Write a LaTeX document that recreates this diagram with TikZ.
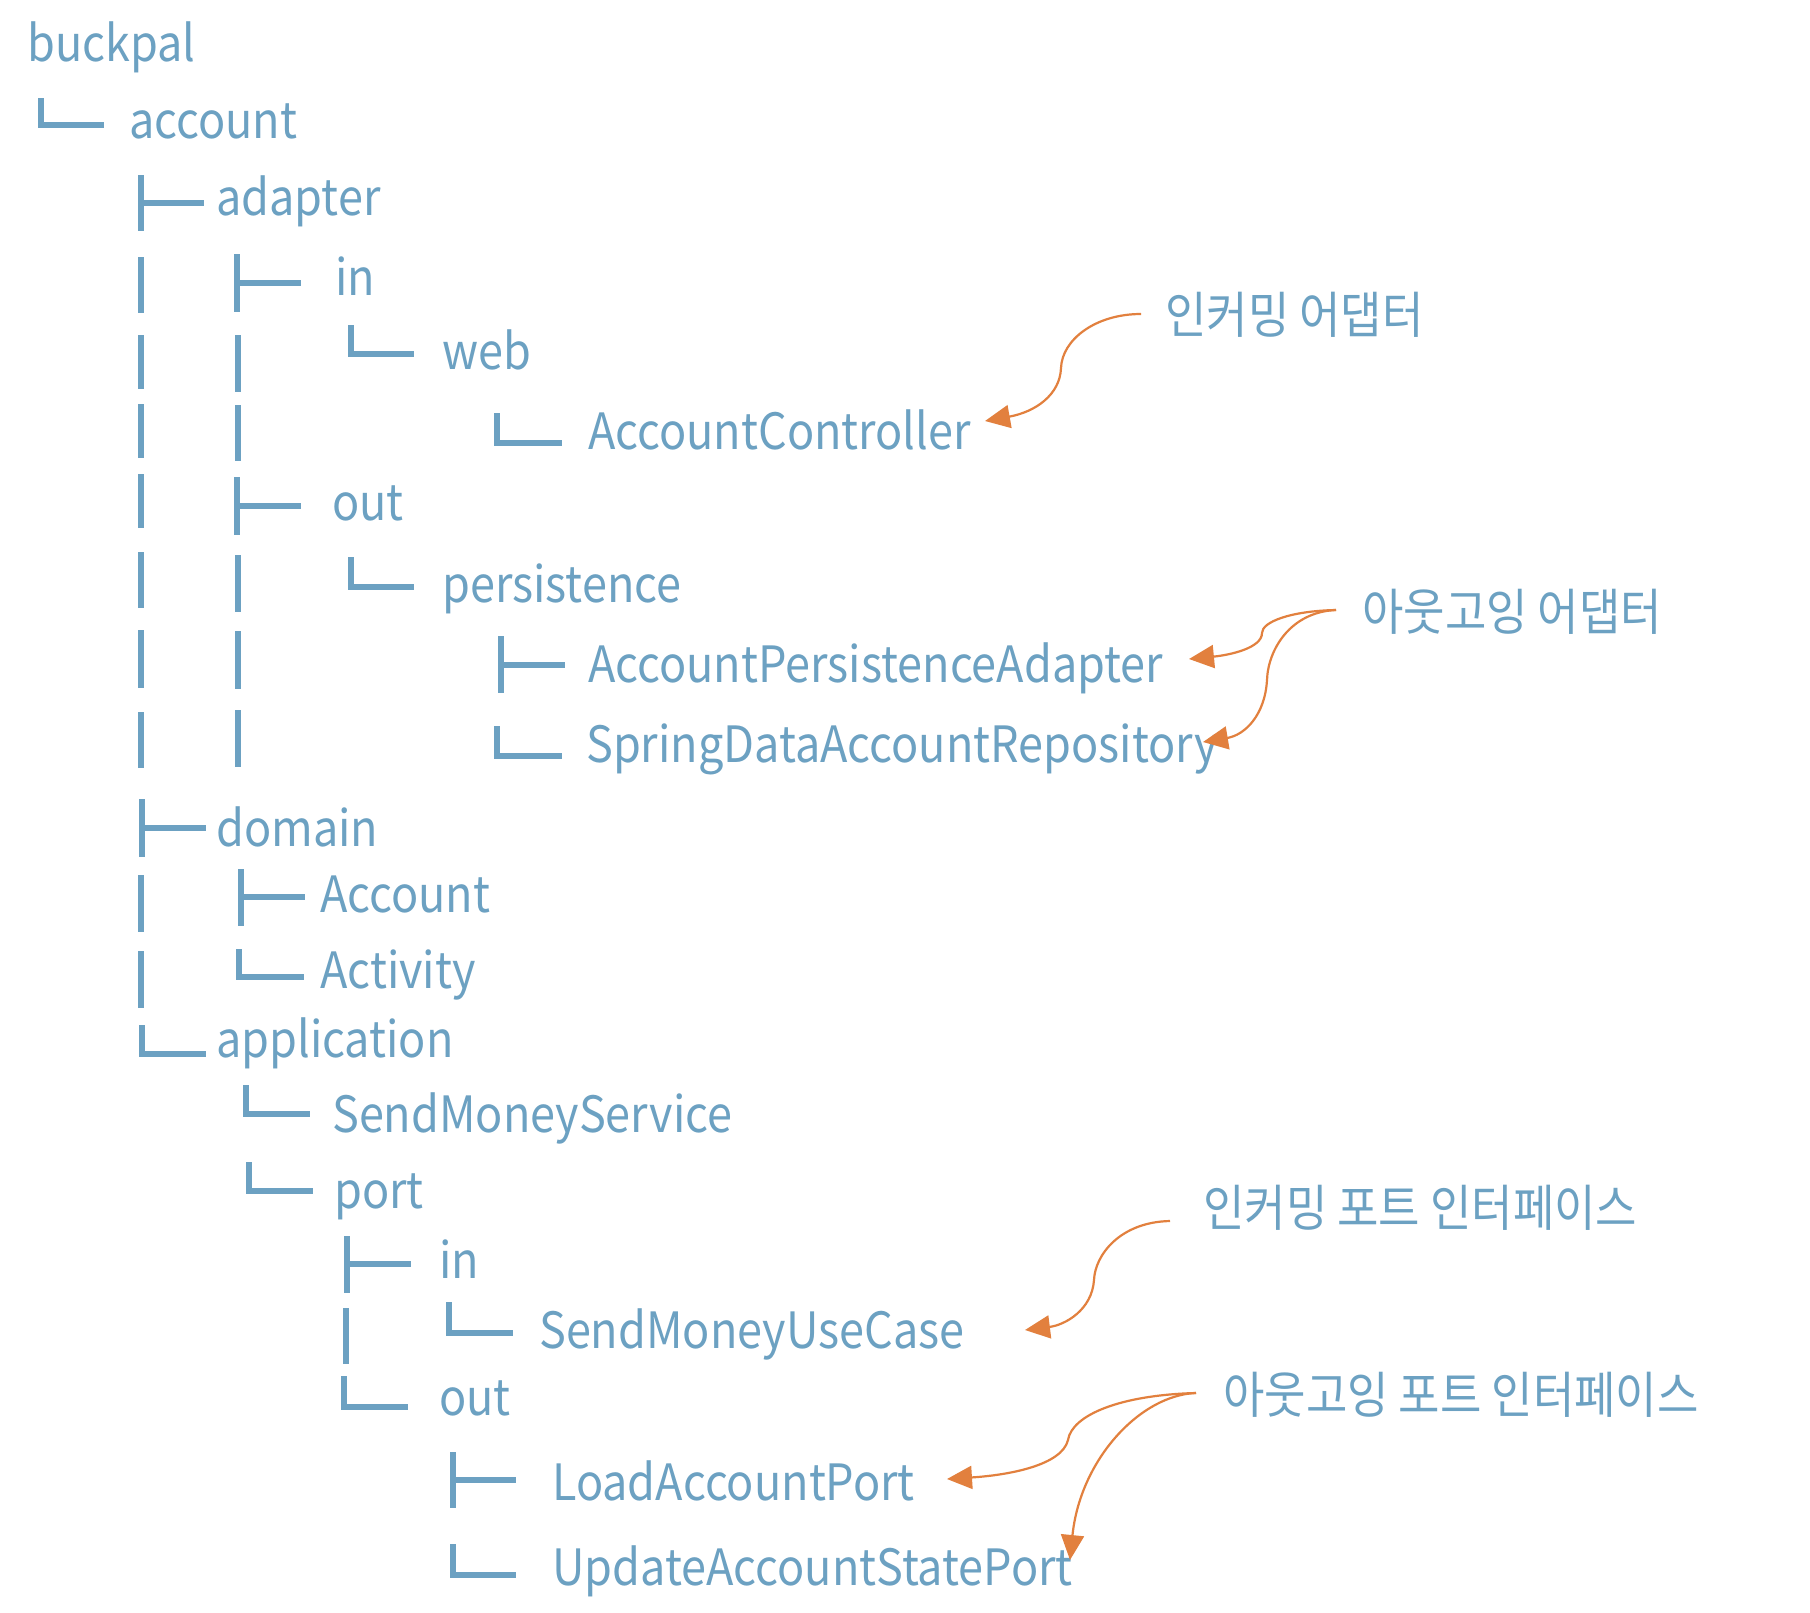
\documentclass[tikz,border=0pt]{standalone}
\usepackage{fontspec}
\setmainfont{Noto Sans CJK KR}[FakeStretch=0.9]
\newfontfamily\krfont{Noto Sans CJK KR}[FakeStretch=0.9]
\usetikzlibrary{arrows.meta}
\definecolor{treeblue}{RGB}{108,161,194}
\definecolor{noteorange}{RGB}{226,128,62}
\newcommand{\treeL}[4]{\draw[treeline] (#1,#2) -- (#1,#3) -- (#4,#3);}
\newcommand{\treeT}[5]{\draw[treeline] (#1,#2) -- (#1,#3); \draw[treeline] (#1,#4) -- (#5,#4);}
\newcommand{\treeV}[3]{\draw[treeline] (#1,#2) -- (#1,#3);}
\tikzset{
  treeline/.style={draw=treeblue, line width=6pt, line cap=butt, line join=miter},
  item/.style={anchor=base west, inner sep=0pt, text=treeblue, font=\fontsize{50}{60}\selectfont},
  note/.style={anchor=base west, inner sep=0pt, text=treeblue, font=\krfont\fontsize{50}{60}\selectfont},
  callout/.style={draw=noteorange, line width=2.2pt, -{Triangle[length=25pt,width=23pt]}, fill=none}
}
\begin{document}
\begin{tikzpicture}[x=1pt,y=-1pt]
\fill[white] (0,0) rectangle (1810,1612);
\useasboundingbox (0,0) rectangle (1810,1612);

% tree texts
\node[item] (t1)  at (27,61)    {buckpal};
\node[item] (t2)  at (129,138)  {account};
\node[item] (t3)  at (216,215)  {adapter};
\node[item] (t4)  at (335,295)  {in};
\node[item] (t5)  at (442,369)  {web};
\node[item] (t6)  at (588,449)  {AccountController};
\node[item] (t7)  at (332,520)  {out};
\node[item] (t8)  at (442,602)  {persistence};
\node[item] (t9)  at (588,682)  {AccountPersistenceAdapter};
\node[item] (t10) at (586,762)  {SpringDataAccountRepository};
\node[item] (t11) at (216,846)  {domain};
\node[item] (t12) at (320,912)  {Account};
\node[item] (t13) at (320,988)  {Activity};
\node[item] (t14) at (216,1057) {application};
\node[item] (t15) at (332,1132) {SendMoneyService};
\node[item] (t16) at (334,1208) {port};
\node[item] (t17) at (439,1278) {in};
\node[item] (t18) at (539,1348) {SendMoneyUseCase};
\node[item] (t19) at (439,1415) {out};
\node[item] (t20) at (552,1500) {LoadAccountPort};
\node[item] (t21) at (552,1585) {UpdateAccountStatePort};

% tree glyphs
\treeL{41}{98}{125}{104}
\treeT{141}{175}{231}{203}{204}
\treeT{237}{254}{312}{283}{301}
\treeL{351}{325}{354}{414}
\treeL{497}{413}{443}{562}
\treeT{237}{477}{535}{506}{301}
\treeL{351}{557}{587}{414}
\treeT{501}{636}{693}{665}{565}
\treeL{497}{726}{756}{562}
\treeT{142}{799}{857}{828}{206}
\treeT{241}{869}{926}{897}{305}
\treeL{239}{949}{977}{304}
\treeL{142}{1025}{1054}{206}
\treeL{246}{1085}{1114}{310}
\treeL{249}{1162}{1191}{313}
\treeT{347}{1236}{1293}{1264}{411}
\treeL{344}{1376}{1407}{408}
\treeL{449}{1302}{1333}{513}
\treeT{453}{1452}{1508}{1480}{516}
\treeL{453}{1544}{1575}{516}

% vertical continuation bars
\treeV{141}{257}{313}
\treeV{141}{335}{389}
\treeV{141}{404}{458}
\treeV{141}{474}{528}
\treeV{141}{552}{608}
\treeV{141}{630}{688}
\treeV{141}{712}{768}
\treeV{141}{875}{932}
\treeV{141}{951}{1008}
\treeV{238}{335}{392}
\treeV{238}{405}{461}
\treeV{238}{555}{612}
\treeV{238}{631}{689}
\treeV{238}{710}{767}
\treeV{346}{1308}{1364}

% notes
\node[note] (k1) at (1165,333)  {인커밍 어댑터};
\node[note] (k2) at (1362,630)  {아웃고잉 어댑터};
\node[note] (k3) at (1203,1226) {인커밍 포트 인터페이스};
\node[note] (k4) at (1223,1413) {아웃고잉 포트 인터페이스};

\coordinate (s1) at (1141,314);
\coordinate (e1) at (985,421);
\coordinate (s2) at (1336,610);
\coordinate (e2a) at (1189,659);
\coordinate (e2b) at (1203,742);
\coordinate (s3) at (1170,1221);
\coordinate (e3) at (1025,1330);
\coordinate (s4) at (1196,1393);
\coordinate (e4a) at (947,1479);
\coordinate (e4b) at (1070,1560);

\draw[callout] (s1) .. controls (1095,314) and (1062,340) .. (1061,368)
                   .. controls (1060,395) and (1035,412) .. (e1);
\draw[callout] (s2) .. controls (1290,611) and (1262,622) .. (1262,633)
                   .. controls (1262,648) and (1230,655) .. (e2a);
\draw[callout] (s2) .. controls (1290,612) and (1268,650) .. (1267,680)
                   .. controls (1265,715) and (1245,735) .. (e2b);
\draw[callout] (s3) .. controls (1120,1222) and (1095,1255) .. (1094,1280)
                   .. controls (1092,1310) and (1065,1325) .. (e3);
\draw[callout] (s4) .. controls (1120,1395) and (1072,1415) .. (1068,1440)
                   .. controls (1062,1465) and (1010,1475) .. (e4a);
\draw[callout] (s4) .. controls (1140,1395) and (1080,1460) .. (e4b);
\end{tikzpicture}
\end{document}
